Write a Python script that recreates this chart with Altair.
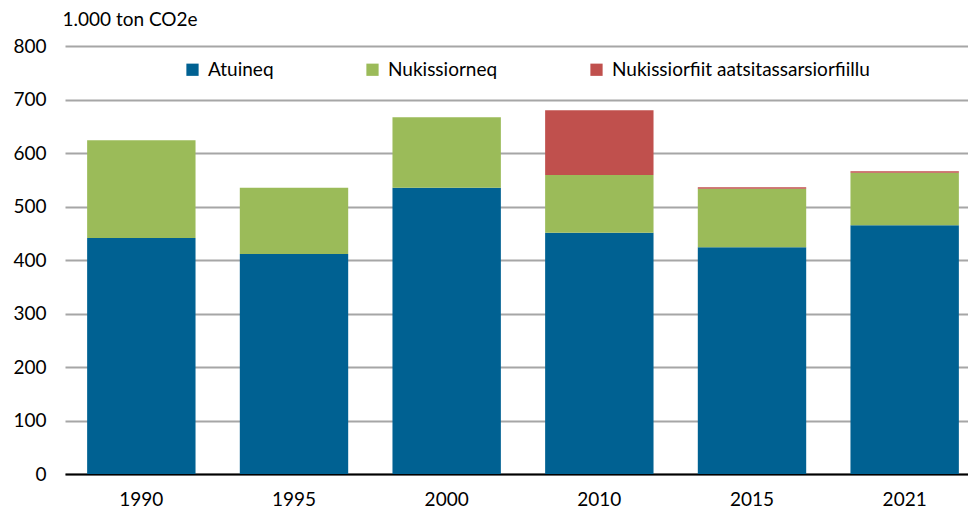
import altair as alt
import pandas as pd

years = ["1990", "1995", "2000", "2010", "2015", "2021"]
series = ["Atuineq", "Nukissiorneq", "Nukissiorfiit aatsitassarsiorfiillu"]
atuineq = [441, 411, 535, 451, 424, 465]
nukissiorneq = [183, 124, 132, 108, 109, 98]
aatsitassarsiorfiit = [0, 0, 0, 121, 3, 3]
colors = ["#006192", "#9BBB59", "#C0504D"]

rows = []
for i, y in enumerate(years):
    for j, (s, vals) in enumerate(zip(series, [atuineq, nukissiorneq, aatsitassarsiorfiit])):
        rows.append({"year": y, "series": s, "value": vals[i], "ord": j})
df = pd.DataFrame(rows)

FONT = "Lato"
FS = 19

chart = alt.Chart(df).mark_bar().encode(
    x=alt.X("year:N", sort=years, title=None,
            scale=alt.Scale(paddingInner=0.29, paddingOuter=0.145),
            axis=alt.Axis(labelAngle=0, ticks=False, domainColor="#000000", domainWidth=2,
                          labelFont=FONT, labelFontSize=FS, labelColor="#000000",
                          labelPadding=16, grid=False)),
    y=alt.Y("value:Q", title="1.000 ton CO2e", stack="zero",
            scale=alt.Scale(domain=[0, 800], nice=False),
            axis=alt.Axis(values=list(range(0, 801, 100)), ticks=False, domain=False,
                          gridColor="#A6A6A6", gridWidth=2,
                          labelFont=FONT, labelFontSize=FS, labelColor="#000000",
                          labelPadding=19,
                          titleAngle=0, titleAlign="left", titleBaseline="alphabetic",
                          titleX=-3, titleY=-21, titleFont=FONT, titleFontSize=FS,
                          titleFontWeight="normal", titleColor="#000000")),
    color=alt.Color("series:N", scale=alt.Scale(domain=series, range=colors),
                    legend=alt.Legend(title=None, orient="none", direction="horizontal",
                                      legendX=118, legendY=14, symbolType="square",
                                      symbolSize=150, symbolStrokeWidth=0, symbolOpacity=1,
                                      labelFont=FONT, labelFontSize=FS, labelColor="#000000",
                                      labelLimit=0, columnPadding=89, labelOffset=6)),
    order=alt.Order("ord:Q", sort="ascending"),
).properties(
    width=916, height=428,
    autosize=alt.AutoSizeParams(type="none"),
    padding={"left": 57, "top": 38, "right": -13, "bottom": 36},
).configure_view(stroke=None)

chart.save("out.html", embed_options={"renderer": "svg", "actions": False})
